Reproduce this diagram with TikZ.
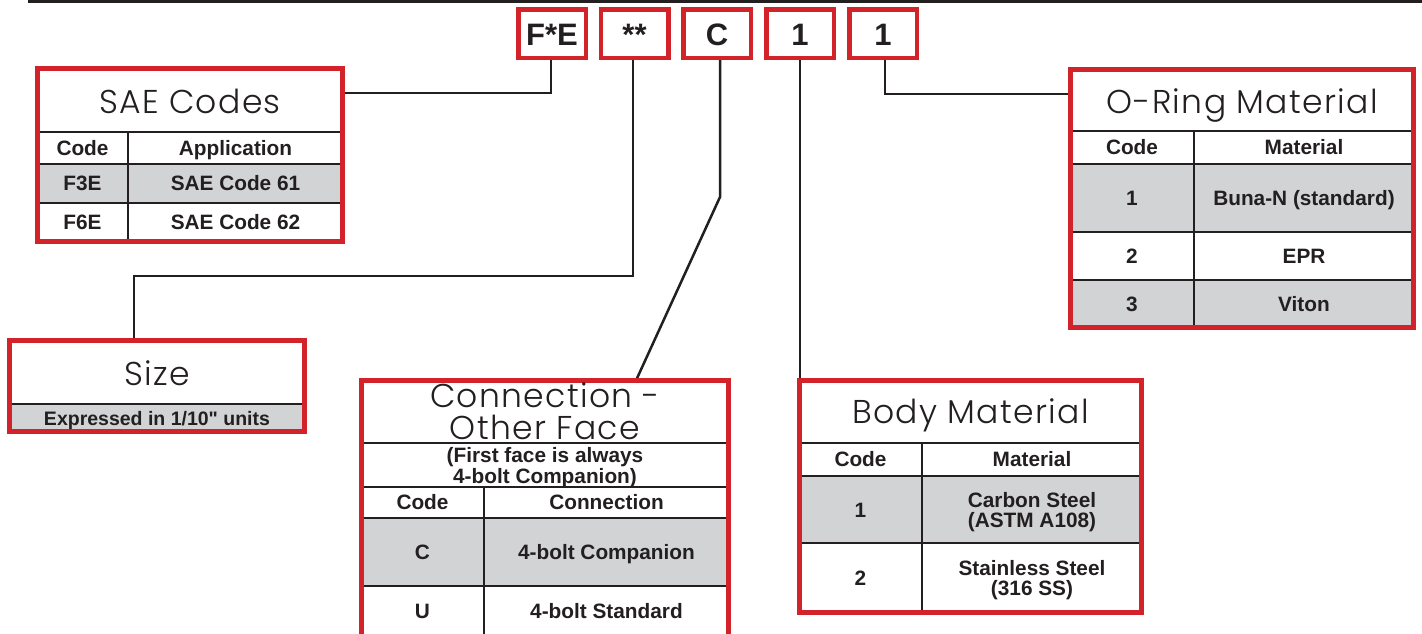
\documentclass[tikz,border=0pt]{standalone}
\usepackage{fontspec}
\setmainfont{Liberation Sans}[Ligatures=TeXOff]
\newfontfamily\ttlfont{Poppins Light}[LetterSpace=4]
\usetikzlibrary{backgrounds}
\definecolor{brandred}{HTML}{D2232A}
\definecolor{ink}{HTML}{231F20}
\definecolor{cellgrey}{HTML}{D1D3D4}
\tikzset{
  redbox/.style={draw=brandred, line width=4.5pt, inner sep=0pt, rectangle},
  gridline/.style={draw=ink, line width=2.2pt},
  connline/.style={draw=ink, line width=2.5pt},
  cell/.style={anchor=base, inner sep=0pt, text=ink, font=\fontsize{20.8}{20.8}\selectfont\bfseries},
  ttl/.style={anchor=base, inner sep=0pt, text=ink, font=\fontsize{33}{33}\selectfont\ttlfont},
  codetxt/.style={anchor=base, inner sep=0pt, text=ink, font=\fontsize{31}{31}\selectfont\bfseries},
  greyrow/.style={fill=cellgrey, draw=none},
}
\begin{document}
\begin{tikzpicture}[x=1pt,y=-1pt]
\useasboundingbox (0,0) rectangle (1422,633);
% top rule
\draw[ink, line width=3pt] (28,1.5) -- (1422,1.5);

% ---------- code boxes ----------
\node[redbox, minimum width=67.5pt, minimum height=48.5pt] (fe) at (552,33.5) {};
\node[redbox, minimum width=67.5pt, minimum height=48.5pt] (st) at (634.5,33.5) {};
\node[redbox, minimum width=67.5pt, minimum height=48.5pt] (cb) at (717,33.5) {};
\node[redbox, minimum width=67.5pt, minimum height=48.5pt] (b1) at (800,33.5) {};
\node[redbox, minimum width=67.5pt, minimum height=48.5pt] (o1) at (883,33.5) {};
\node[codetxt] (fet) at (552,45.6) {F*E};
\node[codetxt] (stt) at (634.5,45.6) {**};
\node[codetxt] (cbt) at (717,45.6) {C};
\node[codetxt] (b1t) at (800,45.6) {1};
\node[codetxt] (o1t) at (883,45.6) {1};

% ---------- SAE Codes ----------
\fill[cellgrey] (37.5,164) rectangle (342.5,203);
\draw[gridline] (37.5,132) -- (342.5,132);
\draw[gridline] (37.5,164) -- (342.5,164);
\draw[gridline] (37.5,203) -- (342.5,203);
\draw[gridline] (128,132) -- (128,241.5);
\node[redbox, minimum width=305pt, minimum height=173pt] (sae) at (190,155) {};
\node[ttl] (saet) at (190,113) {SAE Codes};
\node[cell] (saeh1) at (82.5,155.4) {Code};
\node[cell] (saeh2) at (235.5,155.4) {Application};
\node[cell] (sae11) at (82.5,190.9) {F3E};
\node[cell] (sae12) at (235.5,190.9) {SAE Code 61};
\node[cell] (sae21) at (82.5,229.9) {F6E};
\node[cell] (sae22) at (235.5,229.9) {SAE Code 62};

% ---------- O-Ring Material ----------
\fill[cellgrey] (1070.5,164) rectangle (1413.5,232);
\fill[cellgrey] (1070.5,280) rectangle (1413.5,327.5);
\draw[gridline] (1070.5,131) -- (1413.5,131);
\draw[gridline] (1070.5,164) -- (1413.5,164);
\draw[gridline] (1070.5,232) -- (1413.5,232);
\draw[gridline] (1070.5,280) -- (1413.5,280);
\draw[gridline] (1194,131) -- (1194,327.5);
\node[redbox, minimum width=343pt, minimum height=258pt] (oring) at (1242,198.5) {};
\node[ttl] (oringt) at (1242,113) {O-Ring Material};
\node[cell] (orh1) at (1132,154.9) {Code};
\node[cell] (orh2) at (1304,154.9) {Material};
\node[cell] (or11) at (1132,205.4) {1};
\node[cell] (or12) at (1304,205.4) {Buna-N (standard)};
\node[cell] (or21) at (1132,263.4) {2};
\node[cell] (or22) at (1304,263.4) {EPR};
\node[cell] (or31) at (1132,311.4) {3};
\node[cell] (or32) at (1304,311.4) {Viton};

% ---------- Size ----------
\fill[cellgrey] (9.5,404) rectangle (304.5,431.5);
\draw[gridline] (9.5,404) -- (304.5,404);
\node[redbox, minimum width=295pt, minimum height=91pt] (size) at (157,386) {};
\node[ttl] (sizet) at (157,385) {Size};
\node[cell, font=\fontsize{19.5}{19.5}\selectfont\bfseries] (sizes) at (157,425.5) {Expressed in 1/10" units};

% ---------- Connection - Other Face ----------
\fill[cellgrey] (361.5,518) rectangle (728.5,586);
\draw[gridline] (361.5,443) -- (728.5,443);
\draw[gridline] (361.5,487) -- (728.5,487);
\draw[gridline] (361.5,518) -- (728.5,518);
\draw[gridline] (361.5,586) -- (728.5,586);
\draw[gridline] (484,487) -- (484,645);
\node[redbox, minimum width=367pt, minimum height=264.5pt] (conn) at (545,512.75) {};
\node[ttl] (connt1) at (545,407) {Connection -};
\node[ttl] (connt2) at (545,439) {Other Face};
\node[cell] (conns1) at (545,462) {(First face is always};
\node[cell] (conns2) at (545,483) {4-bolt Companion)};
\node[cell] (conh1) at (422.5,509.9) {Code};
\node[cell] (conh2) at (606.5,509.9) {Connection};
\node[cell] (con11) at (422.5,559.4) {C};
\node[cell] (con12) at (606.5,559.4) {4-bolt Companion};
\node[cell] (con21) at (422.5,618.9) {U};
\node[cell] (con22) at (606.5,618.9) {4-bolt Standard};

% ---------- Body Material ----------
\fill[cellgrey] (799.5,476) rectangle (1141.5,543);
\draw[gridline] (799.5,443) -- (1141.5,443);
\draw[gridline] (799.5,476) -- (1141.5,476);
\draw[gridline] (799.5,543) -- (1141.5,543);
\draw[gridline] (922,443) -- (922,612.5);
\node[redbox, minimum width=342pt, minimum height=232pt] (body) at (970.5,496.5) {};
\node[ttl] (bodyt) at (970.5,423) {Body Material};
\node[cell] (bdh1) at (860.5,466.9) {Code};
\node[cell] (bdh2) at (1032,466.9) {Material};
\node[cell] (bd11) at (860.5,517) {1};
\node[cell] (bd12a) at (1032,507) {Carbon Steel};
\node[cell] (bd12b) at (1032,527) {(ASTM A108)};
\node[cell] (bd21) at (860.5,585.5) {2};
\node[cell] (bd22a) at (1032,575) {Stainless Steel};
\node[cell] (bd22b) at (1032,595) {(316 SS)};

% ---------- connectors ----------
\coordinate (feK) at (551,93);
\coordinate (stK) at (633,276);
\coordinate (szK) at (134,276);
\coordinate (cbK) at (720,197);
\coordinate (cnK) at (636,380.5);
\coordinate (o1K) at (885,94);
\begin{pgfonlayer}{background}
\draw[connline] (fe.south -| feK) -- (feK) -- (feK -| sae.east);
\draw[connline] (st.south -| stK) -- (stK) -- (szK) -- (szK |- size.north);
\draw[connline] (cb.south -| cbK) -- (cbK) -- (cnK);
\draw[connline] (b1.south) -- (b1.south |- body.north);
\draw[connline] (o1.south -| o1K) -- (o1K) -- (o1K -| oring.west);
\end{pgfonlayer}
\end{tikzpicture}
\end{document}
